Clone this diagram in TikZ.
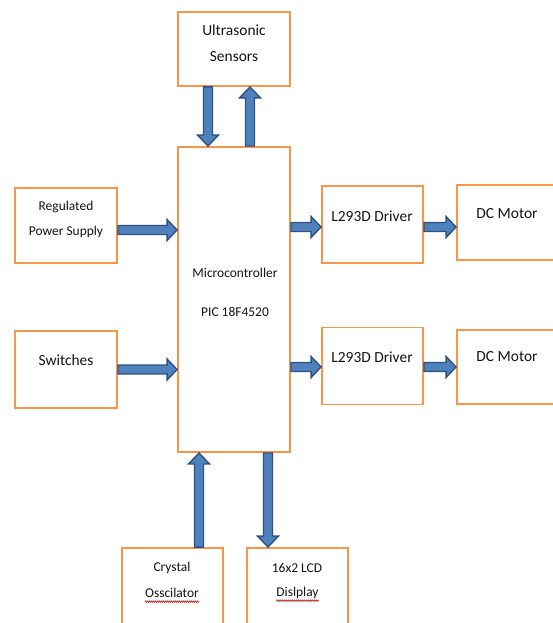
\documentclass[tikz,border=0pt]{standalone}
\usepackage{fontspec}
\setmainfont{Carlito}
\usetikzlibrary{calc,decorations.pathmorphing}
\definecolor{obox}{HTML}{F79646}
\definecolor{bfill}{HTML}{4F81BD}
\definecolor{bline}{HTML}{2F5283}
\definecolor{txtc}{HTML}{141414}
\tikzset{
  box/.style={draw=obox, line width=1.9bp, fill=white, inner sep=0pt},
  blk/.style={draw=bline, fill=bfill, line width=1.4bp, line join=miter},
  lbl/.style={text=txtc, inner sep=0pt, align=center},
  big/.style={font=\fontsize{15.5}{26}\selectfont},
  small/.style={font=\fontsize{13.5}{25}\selectfont},
  squig/.style={draw=red!85!black, line width=0.5bp, decorate,
    decoration={zigzag, amplitude=0.8bp, segment length=2bp}}
}
% right-pointing block arrow
\newcommand\rarr[2]{\draw[blk] let \p1=(#1), \p2=(#2) in
  (\x1,\y1+4.5bp) -- (\x2-10bp,\y1+4.5bp) -- (\x2-10bp,\y1+10.5bp) -- (\x2,\y1)
  -- (\x2-10bp,\y1-10.5bp) -- (\x2-10bp,\y1-4.5bp) -- (\x1,\y1-4.5bp) -- cycle;}
% down-pointing block arrow
\newcommand\darr[2]{\draw[blk] let \p1=(#1), \p2=(#2) in
  (\x1-4.5bp,\y1) -- (\x1-4.5bp,\y2+11bp) -- (\x1-10.5bp,\y2+11bp) -- (\x1,\y2)
  -- (\x1+10.5bp,\y2+11bp) -- (\x1+4.5bp,\y2+11bp) -- (\x1+4.5bp,\y1) -- cycle;}
% up-pointing block arrow
\newcommand\uarr[2]{\draw[blk] let \p1=(#1), \p2=(#2) in
  (\x1-4.5bp,\y1) -- (\x1-4.5bp,\y2-11bp) -- (\x1-10.5bp,\y2-11bp) -- (\x1,\y2)
  -- (\x1+10.5bp,\y2-11bp) -- (\x1+4.5bp,\y2-11bp) -- (\x1+4.5bp,\y1) -- cycle;}
\begin{document}
\begin{tikzpicture}[x=1bp, y=-1bp]
\useasboundingbox (0,0) rectangle (553,623);
\fill[white] (0,0) rectangle (553,623);

% boxes
\node[box, minimum width=112bp, minimum height=74bp]  (us)    at (234,49)    {};
\node[box, minimum width=112bp, minimum height=305bp] (micro) at (234,299.5) {};
\node[box, minimum width=102bp, minimum height=75bp]  (reg)   at (66,225.5)  {};
\node[box, minimum width=102bp, minimum height=77bp]  (sw)    at (66,369.5)  {};
\node[box, minimum width=101bp, minimum height=77bp]  (drv1)  at (372.5,224.5) {};
\node[box, minimum width=101bp, minimum height=77bp]  (drv2)  at (372.5,366) {};
\node[box, minimum width=106bp, minimum height=75bp]  (mot1)  at (510,222.5) {};
\node[box, minimum width=106bp, minimum height=74bp]  (mot2)  at (510,367)   {};
\node[box, minimum width=101bp, minimum height=92bp]  (cry)   at (172.5,594) {};
\node[box, minimum width=101bp, minimum height=92bp]  (lcd)   at (297.5,594) {};

% texts
\node[lbl, big]   (usT)  at (234,43)    {Ultrasonic\\Sensors};
\node[lbl, small] (regT) at (66,219.5)  {Regulated\\Power Supply};
\node[lbl, big]   (swT)  at (66,360)    {Switches};
\node[lbl, small] (mcT1) at (235,273)   {Microcontroller};
\node[lbl, small] (mcT2) at (235,312)   {PIC 18F4520};
\node[lbl, big]   (d1T)  at (372,216)   {L293D Driver};
\node[lbl, big]   (d2T)  at (372,357)   {L293D Driver};
\node[lbl, big]   (m1T)  at (507,214)   {DC Motor};
\node[lbl, big]   (m2T)  at (507,357)   {DC Motor};
\node[lbl, small] (cyT1) at (172,568)   {Crystal};
\node[lbl, small] (cyT2) at (172,593)   {Osscilator};
\node[lbl, small] (lcT1) at (297,568)   {16x2 LCD};
\node[lbl, small] (lcT2) at (297.5,593) {Dislplay};

% spell-check underlines
\draw[squig] ($(cyT2.base west)+(0,4)$) -- ($(cyT2.base east)+(0,4)$);
\draw[squig] ($(lcT2.base west)+(0,4)$) -- ($(lcT2.base east)+(0,4)$);

% connector coordinates
\coordinate (a1) at ($(us.south)+(-26,0)$);
\coordinate (a2) at ($(us.south)+(16,0)$);
\coordinate (a3) at ($(reg.east)+(0,4.5)$);
\coordinate (a4) at (sw.east);
\coordinate (a5) at ($(drv1.west)+(0,2.5)$);
\coordinate (a6) at ($(drv2.west)+(0,1)$);
\coordinate (a7) at ($(cry.north)+(26.5,0)$);
\coordinate (a8) at ($(lcd.north)+(-29.5,0)$);

% arrows
\darr{a1}{a1 |- micro.north}
\uarr{a2 |- micro.north}{a2}
\rarr{a3}{micro.west |- a3}
\rarr{a4}{micro.west |- a4}
\rarr{micro.east |- a5}{a5}
\rarr{micro.east |- a6}{a6}
\rarr{drv1.east |- a5}{mot1.west |- a5}
\rarr{drv2.east |- a6}{mot2.west |- a6}
\uarr{a7}{a7 |- micro.south}
\darr{a8 |- micro.south}{a8}
\end{tikzpicture}
\end{document}
